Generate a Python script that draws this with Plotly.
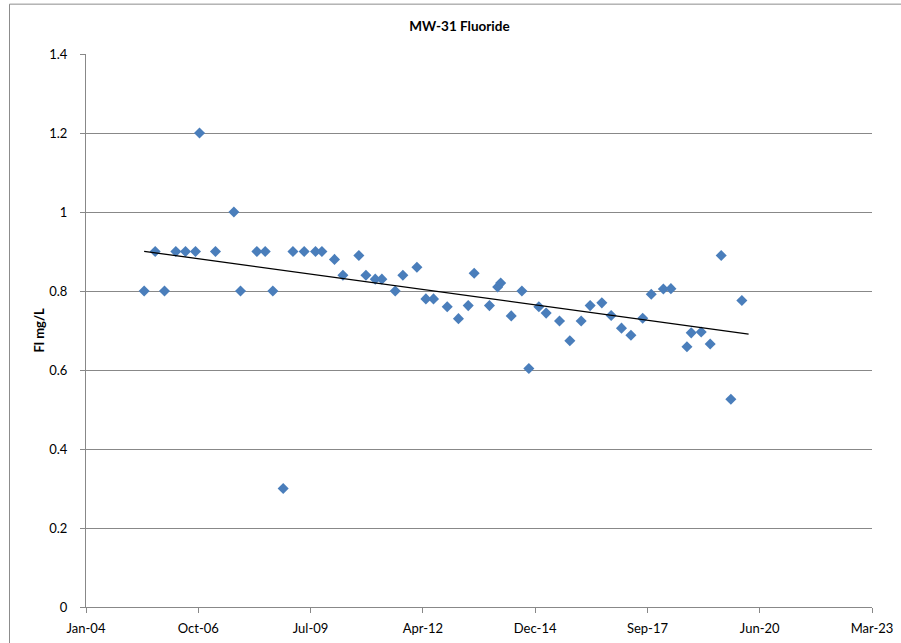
import datetime as dt
import numpy as np
import plotly.graph_objects as go

# Sample dates and fluoride concentrations (mg/L) for well MW-31
sample_dates = [
    "2005-06-15", "2005-09-21", "2005-12-13", "2006-03-24", "2006-06-18",
    "2006-09-15", "2006-10-21", "2007-03-12", "2007-08-23", "2007-10-21",
    "2008-03-15", "2008-05-28", "2008-08-04", "2008-11-04", "2009-01-30",
    "2009-05-10", "2009-08-19", "2009-10-15", "2010-02-04", "2010-04-20",
    "2010-09-09", "2010-11-11", "2011-02-02", "2011-04-02", "2011-07-30",
    "2011-10-06", "2012-02-08", "2012-04-28", "2012-07-05", "2012-11-04",
    "2013-02-12", "2013-05-10", "2013-07-02", "2013-11-15", "2014-01-27",
    "2014-02-23", "2014-05-28", "2014-08-31", "2014-11-01", "2015-01-29",
    "2015-04-04", "2015-08-01", "2015-11-01", "2016-02-10", "2016-04-30",
    "2016-08-12", "2016-11-03", "2017-02-03", "2017-04-28", "2017-08-11",
    "2017-10-26", "2018-02-11", "2018-04-19", "2018-09-09", "2018-10-17",
    "2019-01-14", "2019-04-04", "2019-07-11", "2019-10-05", "2020-01-11",
]
fluoride = [
    0.80, 0.90, 0.80, 0.90, 0.90,
    0.90, 1.20, 0.90, 1.00, 0.80,
    0.90, 0.90, 0.80, 0.30, 0.90,
    0.90, 0.90, 0.90, 0.88, 0.84,
    0.89, 0.84, 0.83, 0.83, 0.80,
    0.84, 0.86, 0.78, 0.78, 0.76,
    0.73, 0.763, 0.845, 0.763, 0.81,
    0.82, 0.737, 0.80, 0.604, 0.76,
    0.744, 0.724, 0.674, 0.724, 0.763,
    0.77, 0.738, 0.706, 0.688, 0.731,
    0.792, 0.805, 0.806, 0.659, 0.694,
    0.696, 0.666, 0.89, 0.526, 0.776,
]

# Axis tick labels (date axis stepping 1000 days from 14 Jan 2004)
x_tick_text = ["Jan-04", "Oct-06", "Jul-09", "Apr-12", "Dec-14", "Sep-17", "Jun-20", "Mar-23"]
axis_start = dt.date(2004, 1, 14)
x_tick_vals = [axis_start + dt.timedelta(days=1000 * i) for i in range(len(x_tick_text))]

# Trendline is projected a short way past the last sample
TREND_FORWARD_DAYS = 60

dates = [dt.date.fromisoformat(s) for s in sample_dates]

# Linear least-squares trend over the sampling period
ordinal = np.array([d.toordinal() for d in dates], dtype=float)
slope, intercept = np.polyfit(ordinal, np.array(fluoride), 1)
trend_x = [dates[0], dates[-1] + dt.timedelta(days=TREND_FORWARD_DAYS)]
trend_y = [slope * d.toordinal() + intercept for d in trend_x]

FONT = "Lato, 'Open Sans', sans-serif"
GRID = "#888888"

fig = go.Figure()
fig.add_trace(go.Scatter(
    x=dates, y=fluoride, mode="markers",
    marker=dict(symbol="diamond", size=8.5, color="#4a7ebb", line=dict(width=0)),
    showlegend=False,
))
fig.add_trace(go.Scatter(
    x=trend_x, y=trend_y, mode="lines",
    line=dict(color="black", width=1.3),
    showlegend=False,
))

fig.update_layout(
    width=901, height=643,
    margin=dict(l=86, r=29, t=54, b=36),
    paper_bgcolor="white", plot_bgcolor="white",
    font=dict(family=FONT, size=13, color="black"),
    title=dict(text="<b>MW-31 Fluoride</b>", x=459.5 / 901, xanchor="center",
               y=1 - 26 / 643, yanchor="middle", font=dict(size=13.5)),
    xaxis=dict(
        type="date", automargin=False,
        range=[x_tick_vals[0], x_tick_vals[-1]],
        tickvals=x_tick_vals, ticktext=x_tick_text,
        showgrid=False, zeroline=False,
        showline=True, linecolor=GRID, linewidth=1,
        ticks="outside", ticklen=5, tickcolor=GRID,
        ticklabelstandoff=4,
    ),
    yaxis=dict(
        automargin=False,
        range=[0, 1.4], tick0=0, dtick=0.2,
        showgrid=True, gridcolor=GRID, gridwidth=1,
        zeroline=False,
        showline=True, linecolor=GRID, linewidth=1,
        ticks="outside", ticklen=5, tickcolor=GRID,
        ticklabelstandoff=10,
    ),
    annotations=[dict(
        text="<b>Fl mg/L</b>", textangle=-90,
        xref="paper", yref="paper", x=(38 - 86) / 786, y=0.5,
        xanchor="center", yanchor="middle", showarrow=False,
        font=dict(size=13),
    )],
    shapes=[dict(
        type="rect", xref="paper", yref="paper",
        x0=(9.5 - 86) / 786, x1=1.1, y0=-0.2, y1=(606.7 - 4.5) / 552.4,
        line=dict(color="#8c8c8c", width=1), fillcolor="rgba(0,0,0,0)",
        layer="below",
    )],
)

fig.write_html("out.html")
